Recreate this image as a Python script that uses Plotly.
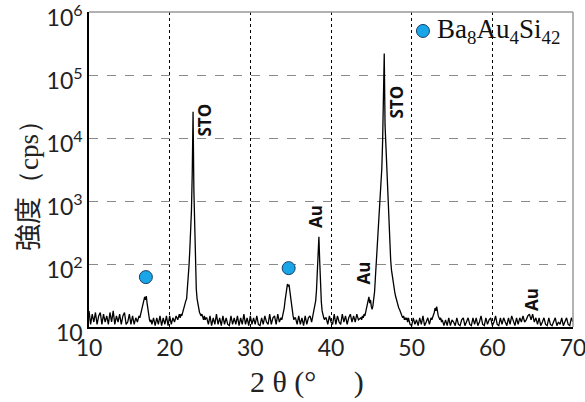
import numpy as np
import plotly.graph_objects as go

# ---------------- data (2theta in degrees, intensity in cps) ----------------
# each segment: start angle, step, intensities
base_10_16 = (10.0, 0.2, [18, 11, 16, 12, 17, 11, 15, 17, 11, 16, 12, 15, 11, 17, 12, 18, 11, 15, 12, 16,
                          11, 15, 17, 11, 12, 16, 11, 15, 11, 14, 12])
peak_17 = (16.1, 0.1, [14, 15, 14, 16, 17, 19, 22, 26, 30, 27, 31, 24, 19, 15, 13, 12, 13])
base_18_21 = (17.8, 0.2, [11, 14, 10.5, 14, 11, 15, 10.5, 14, 11, 15, 10.5, 15, 11, 14, 12, 15, 13, 16])
peak_sto1 = (21.3, 0.1, [14, 16, 15, 17, 18, 20, 23, 26, 28, 40, 55, 95, 170, 320, 700, 2800, 26000, 1500,
                         420, 80, 40, 28, 22, 19, 17, 16, 15, 16, 14, 13, 15, 13, 14])
base_24_34 = (24.6, 0.2, [14, 11, 15, 10.5, 14, 11, 16, 11, 14, 10.5, 15, 11, 14, 11, 10.5, 15, 11, 14, 11, 15,
                          10.5, 14, 11, 16, 11, 14, 10.5, 15, 11, 14, 11, 15, 11, 10.5, 14, 11, 15, 12, 11, 16,
                          11, 14, 15, 11, 16, 12, 14])
peak_347 = (33.9, 0.1, [13, 15, 17, 20, 26, 34, 43, 48, 44, 47, 37, 28, 21, 17, 15, 13, 14])
base_356_376 = (35.6, 0.2, [14, 11, 15, 11, 14, 10.5, 15, 11, 14, 15, 12])
peak_au1 = (37.7, 0.1, [14, 15, 17, 20, 26, 38, 70, 150, 270, 110, 45, 25, 18, 15, 14, 13, 14])
base_394_436 = (39.4, 0.2, [14, 11, 15, 12, 11, 16, 11, 15, 12, 11, 16, 12, 15, 11, 14, 16, 12, 15, 12, 16,
                            13, 14])
peak_sto2 = (43.7, 0.1, [14, 13, 15, 14, 16, 15, 17, 19, 23, 27, 30, 24, 27, 21, 19, 22, 27, 36, 60, 100,
                         150, 230, 350, 560, 1000, 1700, 3300, 9000, 45000, 220000, 16000, 8000, 3000,
                         1100, 600, 330, 190, 115, 80, 62, 50, 42, 36, 31, 27, 24, 22, 20, 19, 17, 16,
                         15, 14, 15, 13, 14, 13, 14, 12])
base_496_524 = (49.6, 0.2, [14, 11, 10.5, 14, 11, 13, 10.5, 14, 11, 15, 10.5, 12, 14, 11, 14])
peak_53 = (52.5, 0.1, [13, 14, 16, 17, 20, 18, 21, 17, 15, 14, 13, 14, 12])
base_538_70 = (53.8, 0.2, [13, 10.5, 13, 10.5, 14, 10.5, 13, 12, 10.5, 14, 11, 10.5, 13, 14, 10.5, 12, 14, 11, 10.5, 14,
                           11, 14, 10.5, 12, 15, 11, 10.5, 14, 11, 13, 14, 10.5, 12, 15, 11, 10.5, 14, 11, 14, 12,
                           10.5, 14, 11, 15, 12, 10.5, 14, 11, 14, 12, 15, 12, 13, 15, 16, 13, 16, 12, 14, 11,
                           14, 10.5, 12, 14, 11, 10.5, 14, 11, 10.5, 12, 14, 10.5, 12, 11, 14, 10.5, 12, 14, 11, 10.5,
                           14, 12])

segments = [base_10_16, peak_17, base_18_21, peak_sto1, base_24_34, peak_347, base_356_376,
            peak_au1, base_394_436, peak_sto2, base_496_524, peak_53, base_538_70]

# Ba8Au4Si42 phase peaks (marker positions)
clath_x = [17.05, 34.75]
clath_y = [62, 86]

# peak labels
label_text = ["STO", "STO", "Au", "Au", "Au"]
label_x = [24.2, 48.1, 38.15, 44.15, 64.95]
label_y = [19300, 37000, 560, 72, 27]

x_ticks = [10, 20, 30, 40, 50, 60, 70]
y_tickvals = [10, 1e2, 1e3, 1e4, 1e5, 1e6]
y_ticktext = ["10", "10<sup>2</sup>", "10<sup>3</sup>", "10<sup>4</sup>", "10<sup>5</sup>", "10<sup>6</sup>"]

# ---------------- build ----------------
tt, cps = [], []
for start, step, vals in segments:
    for i, v in enumerate(vals):
        tt.append(round(start + i * step, 2))
        cps.append(v)

BLUE = "#19a6e8"
fig = go.Figure()
fig.add_trace(go.Scatter(x=tt, y=cps, mode="lines", line=dict(color="black", width=1.3),
                         showlegend=False, hoverinfo="skip"))
fig.add_trace(go.Scatter(x=clath_x, y=clath_y, mode="markers",
                         marker=dict(size=13, color=BLUE, line=dict(color="#1a3f66", width=1)),
                         showlegend=False))
fig.add_trace(go.Scatter(x=[51.4], y=[5.0e5], mode="markers",
                         marker=dict(size=13, color=BLUE, line=dict(color="#1a3f66", width=1)),
                         showlegend=False))

for t, lx, ly in zip(label_text, label_x, label_y):
    fig.add_annotation(x=lx, y=np.log10(ly), text="<b>%s</b>" % t, textangle=-90, showarrow=False,
                       font=dict(family="Open Sans", size=17, color="#111"))

fig.add_annotation(x=52.9, y=np.log10(5.0e5), xanchor="left", yanchor="middle",
                   text="Ba<sub>8</sub>Au<sub>4</sub>Si<sub>42</sub>", showarrow=False,
                   font=dict(family="Liberation Serif", size=27, color="#111"))

fig.add_annotation(xref="paper", yref="paper", x=-0.128, y=0.47, xanchor="center", yanchor="middle",
                   textangle=-90, showarrow=False,
                   text='<span style="font-family:Noto Sans CJK JP">強度</span>（cps）',
                   font=dict(family="Liberation Serif", size=27, color="#222"))
fig.add_annotation(xref="paper", yref="paper", x=0.45, y=-0.175, xanchor="center", yanchor="middle",
                   showarrow=False, text="2 θ\u00a0(°\u00a0\u00a0\u00a0\u00a0\u00a0)",
                   font=dict(family="Liberation Serif", size=30, color="#222"))

# top / right frame in grey
fig.add_shape(type="line", xref="paper", yref="paper", x0=0, x1=1, y0=1, y1=1,
              line=dict(color="#999", width=1.5))
fig.add_shape(type="line", xref="paper", yref="paper", x0=1, x1=1, y0=0, y1=1,
              line=dict(color="#999", width=1.5))

fig.update_xaxes(range=[10, 70], tickvals=x_ticks, showgrid=True, gridcolor="black", griddash="dot",
                 gridwidth=1, showline=True, linecolor="black", linewidth=1.5, ticks="", ticklen=0,
                 zeroline=False, automargin=False, ticklabeloverflow="allow",
                 tickfont=dict(family="Lato", size=23, color="#222"))
fig.update_yaxes(type="log", range=[1, 6], tickvals=y_tickvals, ticktext=y_ticktext, showgrid=True,
                 gridcolor="#8a8a8a", griddash="dash", gridwidth=1, showline=True, linecolor="black",
                 linewidth=1.5, ticks="", ticklen=0, zeroline=False, automargin=False,
                 ticklabeloverflow="allow", ticklabelshift=6,
                 tickfont=dict(family="Lato", size=23, color="#222"))

fig.update_layout(width=585, height=402, margin=dict(l=89, r=12, t=12, b=75),
                  paper_bgcolor="white", plot_bgcolor="white")

fig.write_html("out.html", config={"displayModeBar": False},
               post_script="document.body.style.margin='0px';")
